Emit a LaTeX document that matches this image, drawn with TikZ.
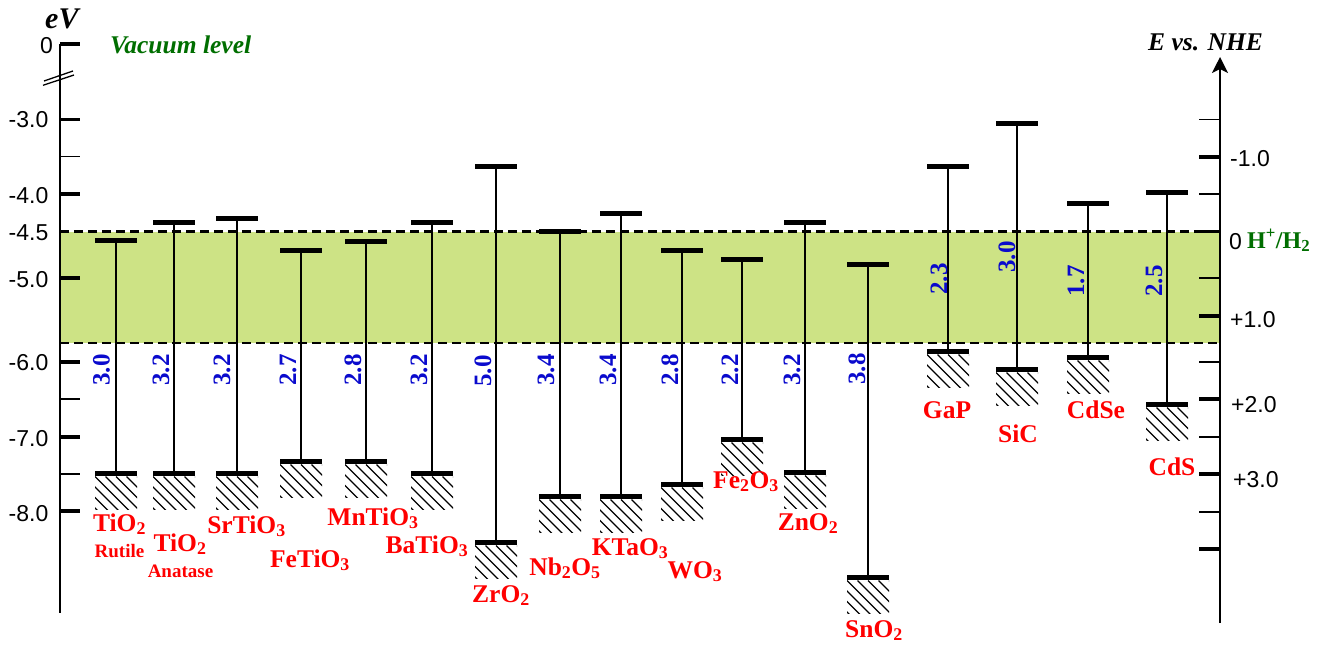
\documentclass[tikz,border=0pt]{standalone}
\usepackage{fontspec}
\setmainfont{Liberation Serif}
\newfontfamily\axisfont{Liberation Sans}
\usetikzlibrary{arrows.meta}
\definecolor{bandgreen}{RGB}{205,227,133}
\definecolor{gapblue}{RGB}{10,10,205}
\definecolor{lblred}{RGB}{255,0,0}
\definecolor{txtgreen}{RGB}{0,110,0}
\begin{document}
\begin{tikzpicture}[x=1pt,y=-1pt,
  bar/.style={line width=5pt},
  gapline/.style={line width=1.6pt},
  hatchline/.style={line width=1.2pt},
  majtick/.style={line width=3.5pt},
  mintick/.style={line width=1.5pt},
  axisline/.style={line width=2pt},
  bandedge/.style={line width=2.5pt, dash pattern=on 9pt off 5pt},
  axlbl/.style={font=\axisfont\fontsize{23}{27}\selectfont, inner sep=0pt},
  gaplbl/.style={font=\bfseries\fontsize{25}{30}\selectfont, text=gapblue, rotate=90, inner sep=0pt},
  matlbl/.style={font=\bfseries\fontsize{25.5}{30}\selectfont, text=lblred, inner sep=0pt, anchor=base},
  phaselbl/.style={font=\bfseries\fontsize{19}{22}\selectfont, text=lblred, inner sep=0pt, anchor=base},
  titlelbl/.style={font=\bfseries\itshape\fontsize{25.5}{30}\selectfont, inner sep=0pt, anchor=base west},
]
\useasboundingbox (0,0) rectangle (1330,645);

% green band (water redox window)
\fill[bandgreen] (60,231.5) rectangle (1220,343);
\coordinate (bt0) at (60,231.5);
\coordinate (bt1) at (1220,231.5);
\coordinate (bb0) at (60,343);
\coordinate (bb1) at (1220,343);
\draw[bandedge] (bt0) -- (bt1);
\draw[bandedge] (bb0) -- (bb1);

% left axis
\coordinate (la0) at (60,44);
\coordinate (la1) at (60,613);
\draw[axisline] (la0) -- (la1);
\foreach \y in {44,119.5,194,278,362,437,511}
  \draw[majtick] (60,\y) -- (80,\y);
\foreach \y in {156.5,399,474}
  \draw[mintick] (60,\y) -- (80,\y);
\draw[line width=1.3pt] (43,85.3) -- (74,75);
\draw[line width=1.3pt] (44,81) -- (73,71);

\node[axlbl, anchor=east] (lz) at (53,45.5) {0};
\node[axlbl, anchor=east] (l30) at (48.5,120) {-3.0};
\node[axlbl, anchor=east] (l40) at (48.5,195.5) {-4.0};
\node[axlbl, anchor=east] (l45) at (48.5,233) {-4.5};
\node[axlbl, anchor=east] (l50) at (48.5,280) {-5.0};
\node[axlbl, anchor=east] (l60) at (48.5,363) {-6.0};
\node[axlbl, anchor=east] (l70) at (48.5,439) {-7.0};
\node[axlbl, anchor=east] (l80) at (48.5,514) {-8.0};

\node[titlelbl, font=\bfseries\itshape\fontsize{30}{34}\selectfont] (ev) at (45,28) {eV};
\node[titlelbl, text=txtgreen] (vac) at (110,53) {Vacuum level};

% right axis
\coordinate (ra0) at (1220,623);
\coordinate (ra1) at (1220,57);
\draw[axisline, -{Stealth[length=16pt,width=16pt,inset=4pt]}] (ra0) -- (ra1);
\foreach \y in {157,231.5,316,399,474,549}
  \draw[majtick] (1199,\y) -- (1220,\y);
\foreach \y in {119.5,194,278,362,437,512}
  \draw[mintick] (1199,\y) -- (1220,\y);

\node[titlelbl] (nhe) at (1148,50) {E vs. NHE};
\node[axlbl, anchor=west] (rm1) at (1230,159) {-1.0};
\node[axlbl, anchor=west] (r0) at (1229,241.5) {0};
\node[titlelbl, font=\bfseries\fontsize{24}{28}\selectfont, text=txtgreen] (hh) at (1247,248) {H\textsuperscript{+}/H\textsubscript{2}};
\node[axlbl, anchor=west] (rp1) at (1230,320) {+1.0};
\node[axlbl, anchor=west] (rp2) at (1231,404.5) {+2.0};
\node[axlbl, anchor=west] (rp3) at (1233,480) {+3.0};

% semiconductors: index / x / CB / VB / gap-label x / gap-label y / gap
\foreach \n/\x/\cb/\vb/\gx/\gy/\g in {
  1/116/240/473/101.5/370/3.0,
  2/174/222/473/161/370/3.2,
  3/237/218/473/222/370/3.2,
  4/301/250/461/288/370/2.7,
  5/366/241/461/353/370/2.8,
  6/432/222/473/419/370/3.2,
  7/496/166/542/483/371/5.0,
  8/560/231/496/546/370/3.4,
  9/621/213/496/608/370/3.4,
  10/682/250/484/670/370/2.8,
  11/742/259/439/730/370/2.2,
  12/805/222/472/792/370/3.2,
  13/868/264/577/857/369/3.8,
  14/948/166/351/939/279/2.3,
  15/1017/123/369/1007/257/3.0,
  16/1088/203/357/1076/281/1.7,
  17/1167/192/404/1154/281/2.5}{
  \coordinate (cb\n) at (\x,\cb);
  \coordinate (vb\n) at (\x,\vb);
  \draw[gapline] (cb\n) -- (vb\n);
  \draw[bar] (\x-21,\cb) -- (\x+21,\cb);
  \draw[bar] (\x-21,\vb) -- (\x+21,\vb);
  \begin{scope}
    \clip (\x-21,\vb+3.5) rectangle (\x+21,\vb+36);
    \foreach \k in {-3,...,4}
      \draw[hatchline] (\x-21+\k*10.5,\vb+3.5) -- ++(36,36);
  \end{scope}
  \node[gaplbl] (g\n) at (\gx,\gy) {\g};
}

% material labels
\node[matlbl] (m1) at (119.5,531) {TiO\textsubscript{2}};
\node[phaselbl] (p1) at (119.5,557) {Rutile};
\node[matlbl] (m2) at (180,551) {TiO\textsubscript{2}};
\node[phaselbl] (p2) at (180.5,577) {Anatase};
\node[matlbl] (m3) at (246.5,533) {SrTiO\textsubscript{3}};
\node[matlbl] (m4) at (310,567) {FeTiO\textsubscript{3}};
\node[matlbl] (m5) at (373,525) {MnTiO\textsubscript{3}};
\node[matlbl] (m6) at (427,553) {BaTiO\textsubscript{3}};
\node[matlbl] (m7) at (501,602) {ZrO\textsubscript{2}};
\node[matlbl] (m8) at (565,575) {Nb\textsubscript{2}O\textsubscript{5}};
\node[matlbl] (m9) at (630,555) {KTaO\textsubscript{3}};
\node[matlbl] (m10) at (695,578) {WO\textsubscript{3}};
\node[matlbl] (m11) at (746,488) {Fe\textsubscript{2}O\textsubscript{3}};
\node[matlbl] (m12) at (808,530) {ZnO\textsubscript{2}};
\node[matlbl] (m13) at (874,637) {SnO\textsubscript{2}};
\node[matlbl] (m14) at (947,418) {GaP};
\node[matlbl] (m15) at (1018,442) {SiC};
\node[matlbl] (m16) at (1096,418) {CdSe};
\node[matlbl] (m17) at (1172,475) {CdS};
\end{tikzpicture}
\end{document}
